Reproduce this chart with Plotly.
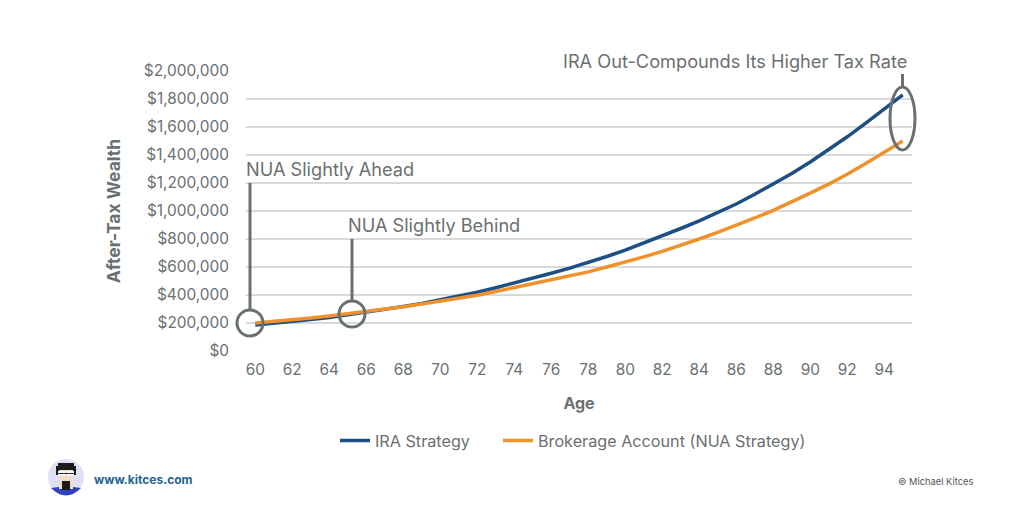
import plotly.graph_objects as go

ages = list(range(60, 96))
ira_strategy = [185000, 197000, 210000, 225000, 240000, 258000, 277000, 297000, 318000, 340000,
                365000, 392000, 420000, 452000, 485000, 520000, 555000, 592000, 632000, 675000,
                720000, 770000, 822000, 875000, 930000, 990000, 1050000, 1120000, 1193000, 1268000,
                1350000, 1437000, 1530000, 1628000, 1728000, 1830000]
nua_strategy = [200000, 210000, 222000, 236000, 250000, 265000, 282000, 300000, 316000, 335000,
                355000, 375000, 398000, 425000, 452000, 480000, 508000, 535000, 565000, 600000,
                635000, 672000, 712000, 755000, 800000, 848000, 898000, 950000, 1005000, 1065000,
                1128000, 1192000, 1262000, 1340000, 1420000, 1500000]
y_ticks = list(range(0, 2000001, 200000))
x_ticks = list(range(60, 95, 2))

FONT = "Inter"
GREY = "#6b7070"
CALL = "#687070"
W, H = 1024, 512
L, R, T, B = 246, 912, 71, 351


def px(x):
    return (x - L) / (R - L)


def py(y):
    return (B - y) / (B - T)


def ring(cx, cy, w, h):
    return dict(type="circle", xref="paper", yref="paper",
                x0=px(cx - w / 2), x1=px(cx + w / 2), y0=py(cy + h / 2), y1=py(cy - h / 2),
                line=dict(color=CALL, width=3))


def stem(x, y0, y1):
    return dict(type="line", xref="paper", yref="paper", x0=px(x), x1=px(x), y0=py(y0), y1=py(y1),
                line=dict(color=CALL, width=3))


def box(x0, x1, y0, y1, color, kind="rect"):
    return dict(type=kind, xref="paper", yref="paper", x0=px(x0), x1=px(x1), y0=py(y1), y1=py(y0),
                fillcolor=color, line=dict(width=0))


def note(text, x, y, size=18.2, color=GREY, anchor="left", weight=None):
    return dict(text=text, xref="paper", yref="paper", x=px(x), y=py(y), xanchor=anchor, yanchor="middle",
                showarrow=False, font=dict(family=FONT, size=size, color=color, weight=weight))


fig = go.Figure()
fig.add_scatter(x=ages, y=ira_strategy, mode="lines", name="IRA Strategy",
                line=dict(color="#1d4f85", width=3.5), legend="legend", showlegend=True)
fig.add_scatter(x=ages, y=nua_strategy, mode="lines", name="Brokerage Account (NUA Strategy)",
                line=dict(color="#f0922b", width=3.5), legend="legend2", showlegend=True)

shapes = [
    ring(250, 323, 26, 26),
    ring(352, 314, 26, 26),
    ring(902.5, 118.5, 25, 63),
    stem(250, 183, 311),
    stem(352, 239, 302),
    stem(902.5, 74, 87),
    # avatar
    box(48, 84, 459, 495, "#dfe0f5", "circle"),
    dict(type="path", xref="paper", yref="paper",
         path=f"M {px(51)} {py(488)} L {px(59)} {py(487)} L {px(73)} {py(487)} L {px(81)} {py(488)} "
              f"Q {px(66)} {py(503)} {px(51)} {py(488)} Z",
         fillcolor="#2f43c0", line=dict(width=0)),
    box(59, 73, 466, 489, "#f1dcc8"),
    box(58, 74, 463, 470, "#1c1c1c"),
    box(56, 59, 466, 475, "#1c1c1c"),
    box(73, 76, 466, 475, "#1c1c1c"),
    box(58, 65, 471, 476, "#f7f7f7"),
    box(67, 74, 471, 476, "#f7f7f7"),
    box(57, 75, 473, 474, "#333333"),
    box(62, 70, 481, 490, "#1c1c1c"),
]

annotations = [
    note("NUA Slightly Ahead", 244, 169),
    note("NUA Slightly Behind", 346, 225),
    note("IRA Out-Compounds Its Higher Tax Rate", 561, 61),
    note("www.kitces.com", 92, 479, size=12, color="#1f6391", weight="bold"),
    note("© Michael Kitces", 975, 481, size=9.3, color="#555555", anchor="right"),
]

legend_font = dict(family=FONT, size=16.2, color=GREY)
fig.update_layout(
    width=W, height=H,
    margin=dict(l=L, r=W - R, t=T, b=H - B, autoexpand=False),
    paper_bgcolor="white", plot_bgcolor="white",
    font=dict(family=FONT, color=GREY, size=15.4),
    shapes=shapes, annotations=annotations, showlegend=True,
    legend=dict(orientation="h", x=px(335), xanchor="left", y=py(441), yanchor="middle",
                font=legend_font, itemwidth=30, bgcolor="rgba(0,0,0,0)"),
    legend2=dict(orientation="h", x=px(498), xanchor="left", y=py(441), yanchor="middle",
                 font=legend_font, itemwidth=30, bgcolor="rgba(0,0,0,0)"),
    xaxis=dict(range=[59.5, 95.5], tickmode="array",
               tickvals=x_ticks, ticktext=[str(a) for a in x_ticks],
               showgrid=False, zeroline=False, showline=False, ticks="", ticklabelstandoff=8,
               title=dict(text="<b>Age</b>", font=dict(size=16, color=GREY), standoff=19)),
    yaxis=dict(range=[0, 2000000], tickmode="array", tickvals=y_ticks,
               ticktext=[f"${v:,}" for v in y_ticks],
               gridcolor="#d9d9d9", gridwidth=1.5, zeroline=False, showline=False, ticks="",
               ticklabelstandoff=16,
               title=dict(text="<b>After-Tax Wealth</b>", font=dict(size=17.5, color=GREY), standoff=18)),
)
fig.write_html("out.html", post_script="document.body.style.margin='0';",
               config=dict(displayModeBar=False))
